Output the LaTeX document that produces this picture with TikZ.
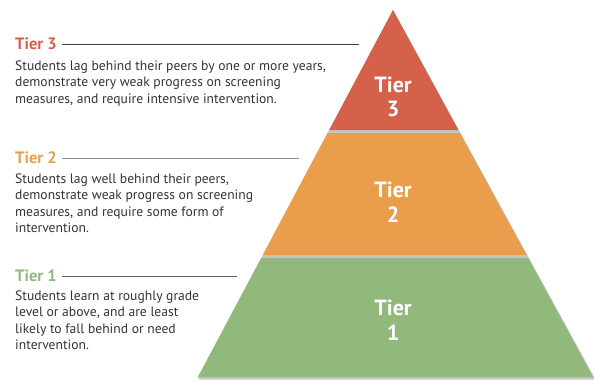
\documentclass[tikz,border=0pt]{standalone}
\usepackage{fontspec}
\setmainfont{PT Sans}
\usepackage{xcolor}
\usetikzlibrary{positioning, calc}
\definecolor{tierred}{HTML}{D5614A}
\definecolor{tierorange}{HTML}{EA9E4C}
\definecolor{tiergreen}{HTML}{90B97B}
\definecolor{bodytext}{HTML}{333333}

\begin{document}
\begin{tikzpicture}[x=1pt, y=-1pt,
  head/.style={anchor=west, inner sep=0pt, font=\fontsize{16.5}{18}\selectfont\bfseries},
  desc/.style={anchor=north west, inner sep=0pt, align=left, text=bodytext,
    font=\fontsize{13.6}{16.6}\selectfont},
  rule/.style={draw=black!75, line width=0.6pt},
  tierlabel/.style={align=center, text=white, inner sep=0pt,
    font=\fontsize{22}{24.5}\selectfont\bfseries},
  shade/.style={fill=black, opacity=0.12},
]
\useasboundingbox (0,0) rectangle (594,381);
% pyramid shadow
\fill[shade] (198,377) -- (393,10) -- (596,380) -- (200,380) -- cycle;
\fill[shade] (198,377) -- (393,10) -- (595,379) -- (199,379) -- cycle;
% the three tiers
\fill[tierred] (329.2,130) -- (393,10) -- (458.4,130) -- cycle;
\fill[tierorange] (327.6,133) -- (460,133) -- (526.5,255) -- (262.8,255) -- cycle;
\fill[tiergreen] (261.2,258) -- (528.2,258) -- (593,377) -- (198,377) -- cycle;
\node[tierlabel] (in3) at (393,97) {Tier\\3};
\node[tierlabel] (in2) at (393,202) {Tier\\2};
\node[tierlabel] (in1) at (393,320) {Tier\\1};
% descriptions
\node[head, text=tierred] (h3) at (15,44) {Tier 3};
\coordinate (e3) at (359,44);
\draw[rule] ($(h3.east)+(5,0)$) -- (e3);
\node[desc, below=10pt of h3.south west, anchor=north west] (d3)
  {Students lag behind their peers by one or more years,\\
   demonstrate very weak progress on screening\\
   measures, and require intensive intervention.};
\node[head, text=tierorange] (h2) at (15,158) {Tier 2};
\coordinate (e2) at (299,158);
\draw[rule, draw=black!45] ($(h2.east)+(5,0)$) -- (e2);
\node[desc, below=9pt of h2.south west, anchor=north west] (d2)
  {Students lag well behind their peers,\\
   demonstrate weak progress on screening\\
   measures, and require some form of\\
   intervention.};
\node[head, text=tiergreen] (h1) at (15,276) {Tier 1};
\coordinate (e1) at (237,276);
\draw[rule, draw=black!60] ($(h1.east)+(5,0)$) -- (e1);
\node[desc, below=8pt of h1.south west, anchor=north west] (d1)
  {Students learn at roughly grade\\
   level or above, and are least\\
   likely to fall behind or need\\
   intervention.};
\end{tikzpicture}
\end{document}
